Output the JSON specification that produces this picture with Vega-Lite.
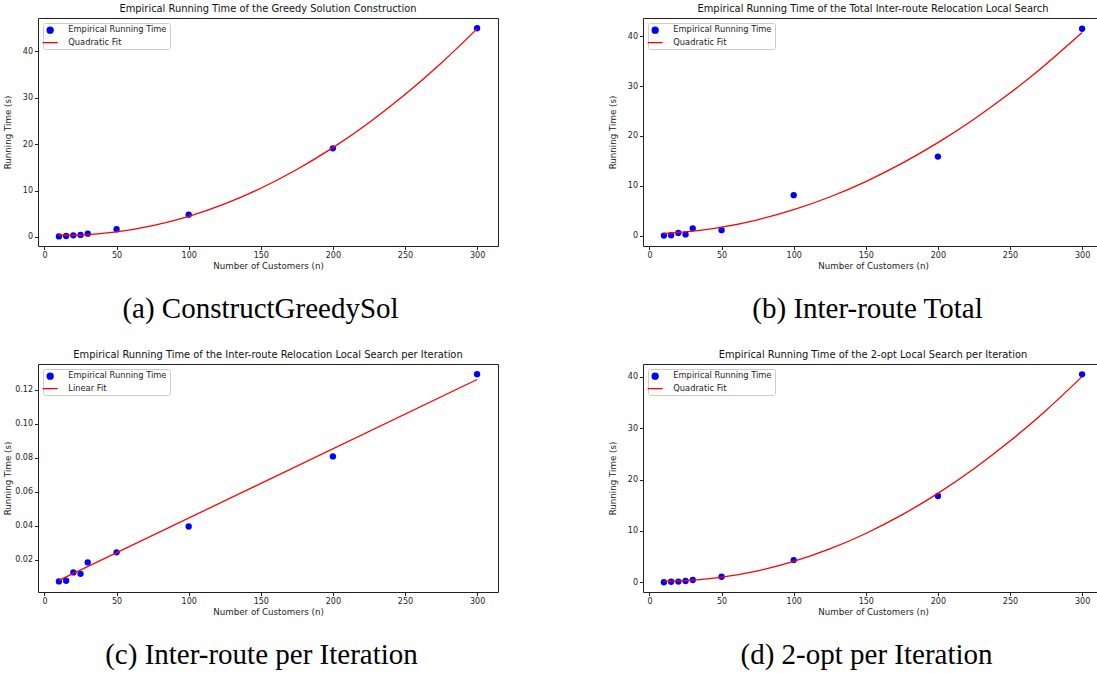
{
  "$schema": "https://vega.github.io/schema/vega-lite/v6.json",
  "padding": {"left": 2, "top": 3, "right": 0, "bottom": 0},
  "background": "white",
  "datasets": {
    "pts_a": [
      {"n": 10, "t": 0.12}, {"n": 15, "t": 0.22}, {"n": 20, "t": 0.36}, {"n": 25, "t": 0.45}, {"n": 30, "t": 0.72},
      {"n": 50, "t": 1.66}, {"n": 100, "t": 4.8}, {"n": 200, "t": 19.1}, {"n": 300, "t": 44.95}
    ],
    "fit_a": [
      {"n": 10, "t": 0.37}, {"n": 20, "t": 0.39}, {"n": 30, "t": 0.52}, {"n": 40, "t": 0.76}, {"n": 50, "t": 1.1},
      {"n": 75, "t": 2.44}, {"n": 100, "t": 4.45}, {"n": 125, "t": 7.13}, {"n": 150, "t": 10.49}, {"n": 175, "t": 14.53},
      {"n": 200, "t": 19.24}, {"n": 225, "t": 24.62}, {"n": 250, "t": 30.68}, {"n": 275, "t": 37.42}, {"n": 300, "t": 44.83}
    ],
    "pts_b": [
      {"n": 10, "t": 0.02}, {"n": 15, "t": 0.08}, {"n": 20, "t": 0.55}, {"n": 25, "t": 0.25}, {"n": 30, "t": 1.47},
      {"n": 50, "t": 1.1}, {"n": 100, "t": 8.13}, {"n": 200, "t": 15.87}, {"n": 300, "t": 41.5}
    ],
    "fit_b": [
      {"n": 10, "t": 0.47}, {"n": 20, "t": 0.65}, {"n": 30, "t": 0.92}, {"n": 40, "t": 1.27}, {"n": 50, "t": 1.71},
      {"n": 75, "t": 3.19}, {"n": 100, "t": 5.21}, {"n": 125, "t": 7.76}, {"n": 150, "t": 10.85}, {"n": 175, "t": 14.49},
      {"n": 200, "t": 18.66}, {"n": 225, "t": 23.37}, {"n": 250, "t": 28.6}, {"n": 275, "t": 34.4}, {"n": 300, "t": 40.73}
    ],
    "pts_c": [
      {"n": 10, "t": 0.0072}, {"n": 15, "t": 0.0076}, {"n": 20, "t": 0.0125}, {"n": 25, "t": 0.0117}, {"n": 30, "t": 0.0184},
      {"n": 50, "t": 0.0243}, {"n": 100, "t": 0.0395}, {"n": 200, "t": 0.0807}, {"n": 300, "t": 0.129}
    ],
    "fit_c": [
      {"n": 10, "t": 0.0078}, {"n": 300, "t": 0.1259}
    ],
    "pts_d": [
      {"n": 10, "t": 0.02}, {"n": 15, "t": 0.13}, {"n": 20, "t": 0.15}, {"n": 25, "t": 0.27}, {"n": 30, "t": 0.47},
      {"n": 50, "t": 1.1}, {"n": 100, "t": 4.34}, {"n": 200, "t": 16.8}, {"n": 300, "t": 40.45}
    ],
    "fit_d": [
      {"n": 10, "t": 0.26}, {"n": 20, "t": 0.31}, {"n": 30, "t": 0.45}, {"n": 40, "t": 0.68}, {"n": 50, "t": 1.01},
      {"n": 75, "t": 2.25}, {"n": 100, "t": 4.08}, {"n": 125, "t": 6.5}, {"n": 150, "t": 9.51}, {"n": 175, "t": 13.12},
      {"n": 200, "t": 17.31}, {"n": 225, "t": 22.1}, {"n": 250, "t": 27.47}, {"n": 275, "t": 33.44}, {"n": 300, "t": 40.0}
    ]
  },
  "columns": 2,
  "spacing": {"row": 25, "column": 108},
  "concat": [
    {
      "width": 460, "height": 228,
      "title": "Empirical Running Time of the Greedy Solution Construction",
      "resolve": {"axis": {"x": "independent"}},
      "layer": [
        {
          "data": {"name": "pts_a"},
          "mark": {"type": "point", "filled": true, "size": 40, "opacity": 1},
          "encoding": {
            "x": {"field": "n", "type": "quantitative", "scale": {"domain": [-4.5, 314.5], "nice": false, "zero": false},
                  "axis": {"values": [0, 50, 100, 150, 200, 250, 300], "title": "Number of Customers (n)"}},
            "y": {"field": "t", "type": "quantitative", "scale": {"domain": [-1.94, 47.16], "nice": false, "zero": false},
                  "axis": {"values": [0, 10, 20, 30, 40], "title": "Running Time (s)"}},
            "color": {"datum": "Empirical Running Time", "type": "nominal",
                      "scale": {"domain": ["Empirical Running Time", "Quadratic Fit"], "range": ["#0000ff", "#ff0000"]},
                      "legend": {"title": null, "symbolSize": 36, "symbolStrokeWidth": 0, "rowPadding": 1.5, "labelOffset": 14, "encode": {"symbols": {"update": {
                        "shape": {"signal": "datum.value === 'Empirical Running Time' ? 'circle' : 'M-2.5,0H2.5'"},
                        "size": {"value": 36},
                        "fill": {"signal": "datum.value === 'Empirical Running Time' ? '#0000ff' : 'transparent'"},
                        "stroke": {"signal": "datum.value === 'Empirical Running Time' ? 'transparent' : '#ff0000'"},
                        "strokeWidth": {"value": 1.3}, "opacity": {"value": 1}, "fillOpacity": {"value": 1}, "strokeOpacity": {"value": 1}}}}}}
          }
        },
        {
          "data": {"name": "fit_a"},
          "mark": {"type": "line", "strokeWidth": 1.3, "interpolate": "monotone"},
          "encoding": {
            "x": {"field": "n", "type": "quantitative",
                  "axis": {"orient": "bottom", "labels": false, "ticks": false, "domain": false, "title": "(a) ConstructGreedySol",
                           "titleFont": "Liberation Serif", "titleFontSize": 29, "titlePadding": 48, "titleColor": "#000", "titleX": 222}},
            "y": {"field": "t", "type": "quantitative"},
            "color": {"datum": "Quadratic Fit", "type": "nominal",
                      "legend": {"title": null, "symbolSize": 36, "symbolStrokeWidth": 0, "rowPadding": 1.5, "labelOffset": 14, "encode": {"symbols": {"update": {
                        "shape": {"signal": "datum.value === 'Empirical Running Time' ? 'circle' : 'M-2.5,0H2.5'"},
                        "size": {"value": 36},
                        "fill": {"signal": "datum.value === 'Empirical Running Time' ? '#0000ff' : 'transparent'"},
                        "stroke": {"signal": "datum.value === 'Empirical Running Time' ? 'transparent' : '#ff0000'"},
                        "strokeWidth": {"value": 1.3}, "opacity": {"value": 1}, "fillOpacity": {"value": 1}, "strokeOpacity": {"value": 1}}}}}}
          }
        }
      ]
    },
    {
      "width": 460, "height": 228,
      "title": "Empirical Running Time of the Total Inter-route Relocation Local Search",
      "resolve": {"axis": {"x": "independent"}},
      "layer": [
        {
          "data": {"name": "pts_b"},
          "mark": {"type": "point", "filled": true, "size": 40, "opacity": 1},
          "encoding": {
            "x": {"field": "n", "type": "quantitative", "scale": {"domain": [-4.5, 314.5], "nice": false, "zero": false},
                  "axis": {"values": [0, 50, 100, 150, 200, 250, 300], "title": "Number of Customers (n)"}},
            "y": {"field": "t", "type": "quantitative", "scale": {"domain": [-2.07, 43.66], "nice": false, "zero": false},
                  "axis": {"values": [0, 10, 20, 30, 40], "title": "Running Time (s)"}},
            "color": {"datum": "Empirical Running Time", "type": "nominal",
                      "scale": {"domain": ["Empirical Running Time", "Quadratic Fit"], "range": ["#0000ff", "#ff0000"]},
                      "legend": {"title": null, "symbolSize": 36, "symbolStrokeWidth": 0, "rowPadding": 1.5, "labelOffset": 14, "encode": {"symbols": {"update": {
                        "shape": {"signal": "datum.value === 'Empirical Running Time' ? 'circle' : 'M-2.5,0H2.5'"},
                        "size": {"value": 36},
                        "fill": {"signal": "datum.value === 'Empirical Running Time' ? '#0000ff' : 'transparent'"},
                        "stroke": {"signal": "datum.value === 'Empirical Running Time' ? 'transparent' : '#ff0000'"},
                        "strokeWidth": {"value": 1.3}, "opacity": {"value": 1}, "fillOpacity": {"value": 1}, "strokeOpacity": {"value": 1}}}}}}
          }
        },
        {
          "data": {"name": "fit_b"},
          "mark": {"type": "line", "strokeWidth": 1.3, "interpolate": "monotone"},
          "encoding": {
            "x": {"field": "n", "type": "quantitative",
                  "axis": {"orient": "bottom", "labels": false, "ticks": false, "domain": false, "title": "(b) Inter-route Total",
                           "titleFont": "Liberation Serif", "titleFontSize": 29, "titlePadding": 48, "titleColor": "#000", "titleX": 224}},
            "y": {"field": "t", "type": "quantitative"},
            "color": {"datum": "Quadratic Fit", "type": "nominal",
                      "legend": {"title": null, "symbolSize": 36, "symbolStrokeWidth": 0, "rowPadding": 1.5, "labelOffset": 14, "encode": {"symbols": {"update": {
                        "shape": {"signal": "datum.value === 'Empirical Running Time' ? 'circle' : 'M-2.5,0H2.5'"},
                        "size": {"value": 36},
                        "fill": {"signal": "datum.value === 'Empirical Running Time' ? '#0000ff' : 'transparent'"},
                        "stroke": {"signal": "datum.value === 'Empirical Running Time' ? 'transparent' : '#ff0000'"},
                        "strokeWidth": {"value": 1.3}, "opacity": {"value": 1}, "fillOpacity": {"value": 1}, "strokeOpacity": {"value": 1}}}}}}
          }
        }
      ]
    },
    {
      "width": 460, "height": 228,
      "title": "Empirical Running Time of the Inter-route Relocation Local Search per Iteration",
      "resolve": {"axis": {"x": "independent"}},
      "layer": [
        {
          "data": {"name": "pts_c"},
          "mark": {"type": "point", "filled": true, "size": 40, "opacity": 1},
          "encoding": {
            "x": {"field": "n", "type": "quantitative", "scale": {"domain": [-4.5, 314.5], "nice": false, "zero": false},
                  "axis": {"values": [0, 50, 100, 150, 200, 250, 300], "title": "Number of Customers (n)"}},
            "y": {"field": "t", "type": "quantitative", "scale": {"domain": [0.001, 0.135], "nice": false, "zero": false},
                  "axis": {"values": [0.02, 0.04, 0.06, 0.08, 0.1, 0.12], "format": ".2f", "title": "Running Time (s)"}},
            "color": {"datum": "Empirical Running Time", "type": "nominal",
                      "scale": {"domain": ["Empirical Running Time", "Linear Fit"], "range": ["#0000ff", "#ff0000"]},
                      "legend": {"title": null, "symbolSize": 36, "symbolStrokeWidth": 0, "rowPadding": 1.5, "labelOffset": 14, "encode": {"symbols": {"update": {
                        "shape": {"signal": "datum.value === 'Empirical Running Time' ? 'circle' : 'M-2.5,0H2.5'"},
                        "size": {"value": 36},
                        "fill": {"signal": "datum.value === 'Empirical Running Time' ? '#0000ff' : 'transparent'"},
                        "stroke": {"signal": "datum.value === 'Empirical Running Time' ? 'transparent' : '#ff0000'"},
                        "strokeWidth": {"value": 1.3}, "opacity": {"value": 1}, "fillOpacity": {"value": 1}, "strokeOpacity": {"value": 1}}}}}}
          }
        },
        {
          "data": {"name": "fit_c"},
          "mark": {"type": "line", "strokeWidth": 1.3},
          "encoding": {
            "x": {"field": "n", "type": "quantitative",
                  "axis": {"orient": "bottom", "labels": false, "ticks": false, "domain": false, "title": "(c) Inter-route per Iteration",
                           "titleFont": "Liberation Serif", "titleFontSize": 29, "titlePadding": 48, "titleColor": "#000", "titleX": 223}},
            "y": {"field": "t", "type": "quantitative"},
            "color": {"datum": "Linear Fit", "type": "nominal",
                      "legend": {"title": null, "symbolSize": 36, "symbolStrokeWidth": 0, "rowPadding": 1.5, "labelOffset": 14, "encode": {"symbols": {"update": {
                        "shape": {"signal": "datum.value === 'Empirical Running Time' ? 'circle' : 'M-2.5,0H2.5'"},
                        "size": {"value": 36},
                        "fill": {"signal": "datum.value === 'Empirical Running Time' ? '#0000ff' : 'transparent'"},
                        "stroke": {"signal": "datum.value === 'Empirical Running Time' ? 'transparent' : '#ff0000'"},
                        "strokeWidth": {"value": 1.3}, "opacity": {"value": 1}, "fillOpacity": {"value": 1}, "strokeOpacity": {"value": 1}}}}}}
          }
        }
      ]
    },
    {
      "width": 460, "height": 228,
      "title": "Empirical Running Time of the 2-opt Local Search per Iteration",
      "resolve": {"axis": {"x": "independent"}},
      "layer": [
        {
          "data": {"name": "pts_d"},
          "mark": {"type": "point", "filled": true, "size": 40, "opacity": 1},
          "encoding": {
            "x": {"field": "n", "type": "quantitative", "scale": {"domain": [-4.5, 314.5], "nice": false, "zero": false},
                  "axis": {"values": [0, 50, 100, 150, 200, 250, 300], "title": "Number of Customers (n)"}},
            "y": {"field": "t", "type": "quantitative", "scale": {"domain": [-1.87, 42.46], "nice": false, "zero": false},
                  "axis": {"values": [0, 5, 10, 15, 20, 25, 30, 35, 40], "title": "Running Time (s)"}},
            "color": {"datum": "Empirical Running Time", "type": "nominal",
                      "scale": {"domain": ["Empirical Running Time", "Quadratic Fit"], "range": ["#0000ff", "#ff0000"]},
                      "legend": {"title": null, "symbolSize": 36, "symbolStrokeWidth": 0, "rowPadding": 1.5, "labelOffset": 14, "encode": {"symbols": {"update": {
                        "shape": {"signal": "datum.value === 'Empirical Running Time' ? 'circle' : 'M-2.5,0H2.5'"},
                        "size": {"value": 36},
                        "fill": {"signal": "datum.value === 'Empirical Running Time' ? '#0000ff' : 'transparent'"},
                        "stroke": {"signal": "datum.value === 'Empirical Running Time' ? 'transparent' : '#ff0000'"},
                        "strokeWidth": {"value": 1.3}, "opacity": {"value": 1}, "fillOpacity": {"value": 1}, "strokeOpacity": {"value": 1}}}}}}
          }
        },
        {
          "data": {"name": "fit_d"},
          "mark": {"type": "line", "strokeWidth": 1.3, "interpolate": "monotone"},
          "encoding": {
            "x": {"field": "n", "type": "quantitative",
                  "axis": {"orient": "bottom", "labels": false, "ticks": false, "domain": false, "title": "(d) 2-opt per Iteration",
                           "titleFont": "Liberation Serif", "titleFontSize": 29, "titlePadding": 48, "titleColor": "#000", "titleX": 223}},
            "y": {"field": "t", "type": "quantitative"},
            "color": {"datum": "Quadratic Fit", "type": "nominal",
                      "legend": {"title": null, "symbolSize": 36, "symbolStrokeWidth": 0, "rowPadding": 1.5, "labelOffset": 14, "encode": {"symbols": {"update": {
                        "shape": {"signal": "datum.value === 'Empirical Running Time' ? 'circle' : 'M-2.5,0H2.5'"},
                        "size": {"value": 36},
                        "fill": {"signal": "datum.value === 'Empirical Running Time' ? '#0000ff' : 'transparent'"},
                        "stroke": {"signal": "datum.value === 'Empirical Running Time' ? 'transparent' : '#ff0000'"},
                        "strokeWidth": {"value": 1.3}, "opacity": {"value": 1}, "fillOpacity": {"value": 1}, "strokeOpacity": {"value": 1}}}}}}
          }
        }
      ]
    }
  ],
  "resolve": {"scale": {"color": "independent"}},
  "config": {
    "font": "DejaVu Sans",
    "view": {"stroke": "#222", "strokeWidth": 1},
    "axis": {"domain": false, "grid": false, "tickColor": "#222", "tickSize": 3.5, "labelFontSize": 8, "labelColor": "#222",
             "titleFontSize": 8.7, "titleFontWeight": "normal", "titleColor": "#222", "labelPadding": 2, "titlePadding": 2, "labelFlush": false},
    "axisY": {"minExtent": 25, "maxExtent": 25, "titlePadding": 1},
    "title": {"fontSize": 9.9, "fontWeight": "normal", "offset": 4, "color": "#111", "anchor": "middle"},
    "legend": {
      "orient": "top-left", "offset": 4.5, "padding": 3, "labelFontSize": 8.3, "labelColor": "#222",
      "fillColor": "rgba(255,255,255,0.8)", "strokeColor": "#cccccc", "cornerRadius": 2, "labelLimit": 300
    }
  }
}
